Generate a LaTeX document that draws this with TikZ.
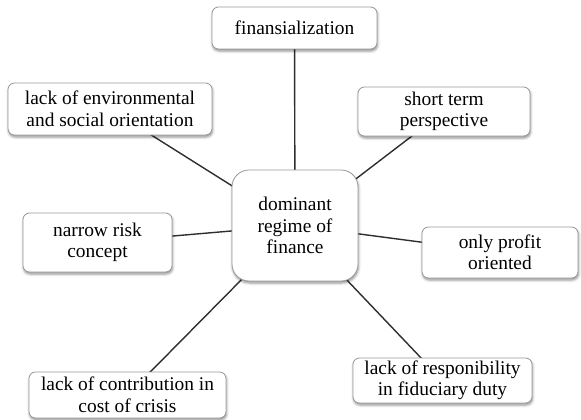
\documentclass[tikz,border=0pt]{standalone}
\usepackage{fontspec}
\setmainfont{Liberation Serif}
\usetikzlibrary{shadows.blur,backgrounds}
\begin{document}
\begin{tikzpicture}[x=1pt,y=-1pt,
  box/.style={draw=black!40, line width=0.8pt, fill=white, rounded corners=6.5pt,
    align=center, inner sep=0pt, font=\fontsize{19.4}{21.5}\selectfont,
    blur shadow={shadow xshift=0.6pt, shadow yshift=-2pt, shadow blur radius=2.5pt, shadow opacity=45}},
  link/.style={draw=black!82, line width=1.4pt}]
\useasboundingbox (0,0) rectangle (581,420);
\node[box, minimum width=165pt, minimum height=42pt] (fin) at (294.5,28) {finansialization};
\node[box, minimum width=172pt, minimum height=49pt] (st) at (444,111.5) {short term\\perspective};
\node[box, minimum width=204pt, minimum height=52pt] (env) at (110,109) {lack of environmental\\and social orientation};
\node[box, minimum width=126pt, minimum height=111pt, rounded corners=17pt] (dom) at (295,225.5) {dominant\\regime of\\finance};
\node[box, minimum width=149pt, minimum height=59pt] (nar) at (97.5,242.5) {narrow risk\\concept};
\node[box, minimum width=156pt, minimum height=51pt] (prof) at (500,252.5) {only profit\\oriented};
\node[box, minimum width=179pt, minimum height=45pt] (resp) at (442.5,380.5) {lack of responibility\\in fiduciary duty};
\node[box, minimum width=197pt, minimum height=46pt] (contr) at (127.5,395) {lack of contribution in\\cost of crisis};
\begin{scope}[on background layer]
\draw[link] (dom.center) -- (fin.center);
\draw[link] (dom.center) -- (st.center);
\draw[link] (dom.center) -- (env.center);
\draw[link] (dom.center) -- (nar.center);
\draw[link] (dom.center) -- (prof.center);
\draw[link] (dom.center) -- (resp.center);
\draw[link] (dom.center) -- (contr.center);
\end{scope}
\end{tikzpicture}
\end{document}
